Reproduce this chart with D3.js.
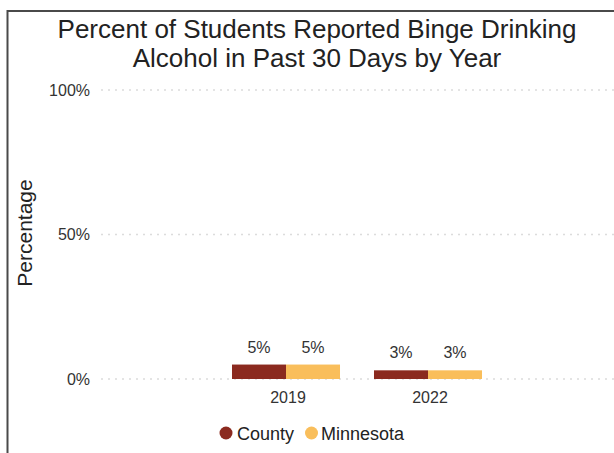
<!DOCTYPE html>
<html>
<head>
<meta charset="utf-8">
<script src="https://cdn.jsdelivr.net/npm/d3@7"></script>
<style>
  html, body { margin: 0; padding: 0; background: #fff; }
  svg { display: block; }
  svg text { font-family: "Liberation Sans", Arial, sans-serif; }
</style>
</head>
<body>
<svg id="chart" width="614" height="453"></svg>
<script>
// Survey years on the x axis
const years = ["2019", "2022"];
// Series names and their values (percent of students)
const seriesNames = ["County", "Minnesota"];
const countyValues = [5, 3];
const minnesotaValues = [5, 3];
// Y axis tick values
const yTicks = [0, 50, 100];

const colors = { County: "#8B2A1F", Minnesota: "#F9BE5B" };
const FONT = "Liberation Sans, Arial, sans-serif";

const svg = d3.select("#chart");
const W = 614, H = 453;

// Frame: left and top rules
svg.append("line").attr("x1", 7.5).attr("x2", 7.5).attr("y1", 10).attr("y2", H)
  .attr("stroke", "#4a4a4a").attr("stroke-width", 2);
svg.append("line").attr("x1", 7).attr("x2", W).attr("y1", 11).attr("y2", 11)
  .attr("stroke", "#4a4a4a").attr("stroke-width", 2);

// Title
const title = svg.append("text").attr("text-anchor", "middle")
  .attr("font-size", 26).attr("fill", "#222");
title.append("tspan").attr("x", 317).attr("y", 38).text("Percent of Students Reported Binge Drinking");
title.append("tspan").attr("x", 317).attr("y", 67).text("Alcohol in Past 30 Days by Year");

// Scales
const y = d3.scaleLinear().domain([0, 100]).range([379, 90]);
const x = d3.scaleBand().domain(years).range([215, 499])
  .paddingInner(0.2394).paddingOuter(0.1197);
const xs = d3.scaleBand().domain(seriesNames).range([0, x.bandwidth()]);

// Y tick labels
const yAxis = d3.axisLeft(y).tickValues(yTicks).tickFormat(d => d + "%")
  .tickSize(0).tickPadding(0);
const gy = svg.append("g").attr("transform", "translate(90,0)").call(yAxis);
gy.select(".domain").remove();
gy.selectAll("text").attr("font-size", 16).attr("fill", "#333")
  .attr("font-family", FONT);

// Dotted gridlines
svg.append("g").selectAll("line").data(yTicks).join("line")
  .attr("x1", 101).attr("x2", W)
  .attr("y1", d => y(d)).attr("y2", d => y(d))
  .attr("stroke", "#dcdcdc").attr("stroke-width", 1.3)
  .attr("stroke-dasharray", "2,5");

// Y axis title
svg.append("text")
  .attr("transform", "translate(32,233) rotate(-90)")
  .attr("text-anchor", "middle").attr("font-size", 21).attr("fill", "#222")
  .text("Percentage");

// Bars
const rows = years.map((yr, i) => ({
  year: yr,
  values: [
    { key: "County", value: countyValues[i] },
    { key: "Minnesota", value: minnesotaValues[i] }
  ]
}));

const groups = svg.append("g").selectAll("g").data(rows).join("g")
  .attr("transform", d => `translate(${x(d.year)},0)`);

groups.selectAll("rect").data(d => d.values).join("rect")
  .attr("x", d => xs(d.key))
  .attr("width", xs.bandwidth())
  .attr("y", d => y(d.value))
  .attr("height", d => y(0) - y(d.value))
  .attr("fill", d => colors[d.key]);

// Value labels
groups.selectAll("text.val").data(d => d.values).join("text")
  .attr("class", "val")
  .attr("x", d => xs(d.key) + xs.bandwidth() / 2)
  .attr("y", d => y(d.value) - 12)
  .attr("text-anchor", "middle").attr("font-size", 16).attr("fill", "#333")
  .text(d => d.value + "%");

// X axis labels
const xAxis = d3.axisBottom(x).tickSize(0).tickPadding(0);
const gx = svg.append("g").attr("transform", "translate(2,0)").call(xAxis);
gx.select(".domain").remove();
gx.selectAll("text").attr("font-size", 16).attr("fill", "#333")
  .attr("font-family", FONT).attr("dy", null).attr("y", 403);

// Legend
const legendItems = [
  { key: "County", cx: 226, tx: 237 },
  { key: "Minnesota", cx: 311.5, tx: 321 }
];
const lg = svg.append("g");
lg.selectAll("circle").data(legendItems).join("circle")
  .attr("cx", d => d.cx).attr("cy", 433).attr("r", 6.5)
  .attr("fill", d => colors[d.key]);
lg.selectAll("text").data(legendItems).join("text")
  .attr("x", d => d.tx).attr("y", 440)
  .attr("font-size", 18).attr("fill", "#222")
  .text(d => d.key);
</script>
</body>
</html>
